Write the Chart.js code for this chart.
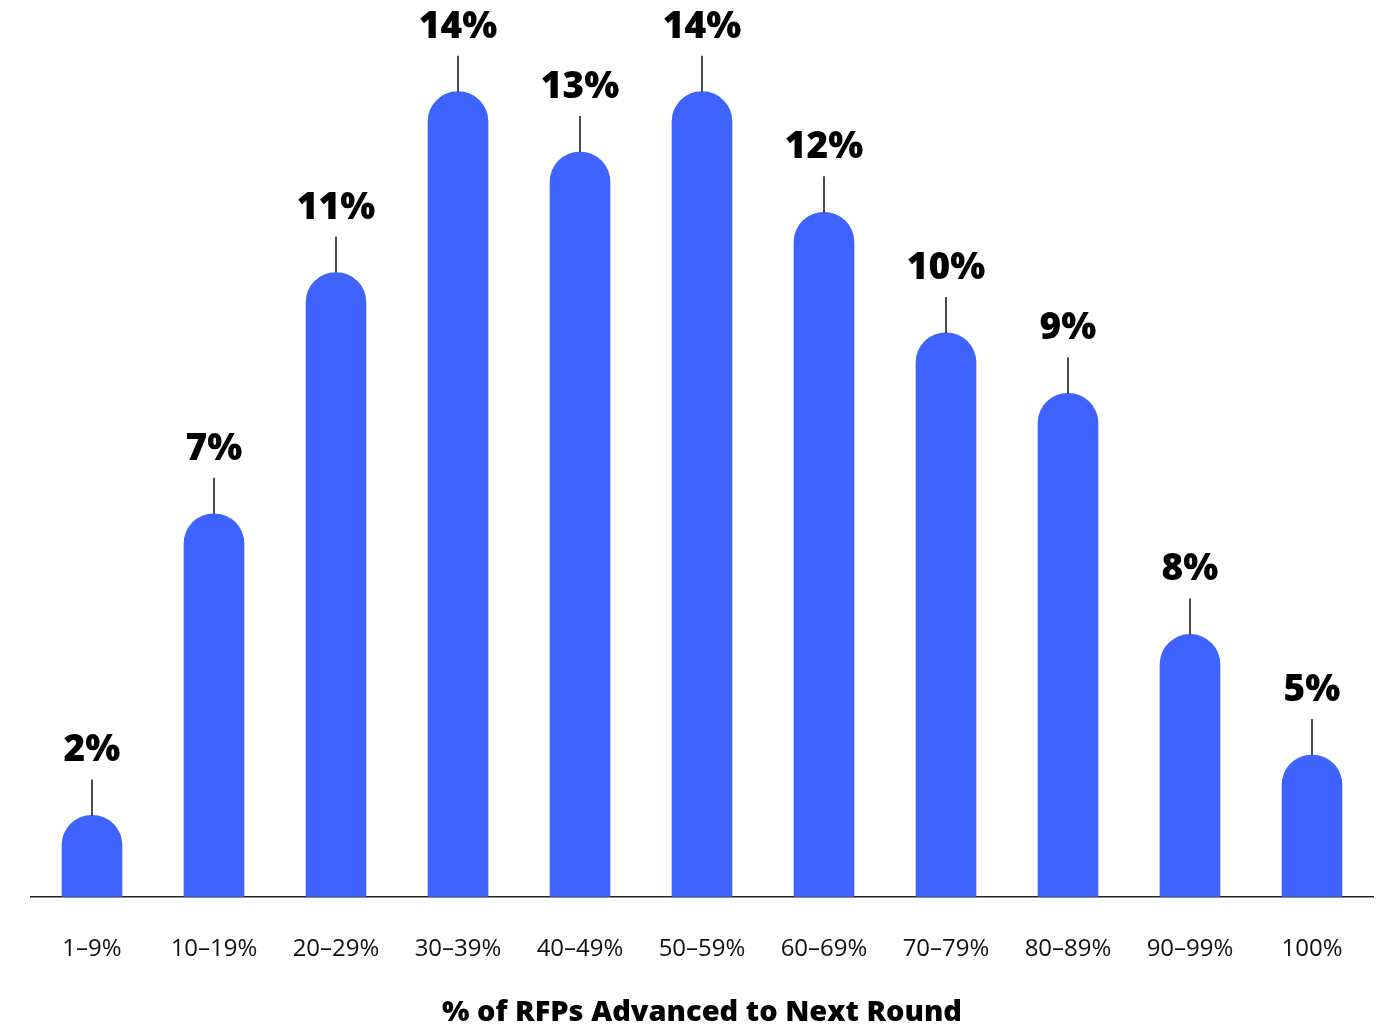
<!DOCTYPE html>
<html>
<head>
<meta charset="utf-8">
<script src="https://cdn.jsdelivr.net/npm/chart.js@4"></script>
<style>
  html, body { margin: 0; padding: 0; background: #fff; }
  #wrap { width: 1385px; height: 1030px; }
</style>
</head>
<body>
<div id="wrap"><canvas id="rfpChart"></canvas></div>
<script>
// categories along the x axis
const categories = ['1–9%', '10–19%', '20–29%', '30–39%', '40–49%', '50–59%',
  '60–69%', '70–79%', '80–89%', '90–99%', '100%'];
// bar heights as drawn in the picture
const barValues = [2, 7, 11, 14, 13, 14, 12, 10, 9, 5, 3];
// text printed above each bar
const barLabels = ['2%', '7%', '11%', '14%', '13%', '14%', '12%', '10%', '9%', '8%', '5%'];
const axisTitle = '% of RFPs Advanced to Next Round';

/* labels with a short leader line above each bar */
const leaderLabels = {
  id: 'leaderLabels',
  afterDatasetsDraw(chart) {
    const ctx = chart.ctx;
    const meta = chart.getDatasetMeta(0);
    ctx.save();
    meta.data.forEach((bar, i) => {
      const top = bar.y;
      const lineTop = top - 36;
      ctx.strokeStyle = '#111';
      ctx.lineWidth = 1.5;
      ctx.beginPath();
      ctx.moveTo(bar.x, top);
      ctx.lineTo(bar.x, lineTop);
      ctx.stroke();
      ctx.fillStyle = '#000';
      ctx.font = '800 37px "Open Sans"';
      ctx.textAlign = 'center';
      ctx.textBaseline = 'alphabetic';
      ctx.fillText(barLabels[i], bar.x, lineTop - 18);
    });
    ctx.restore();
  }
};

new Chart(document.getElementById('rfpChart'), {
  type: 'bar',
  data: {
    labels: categories,
    datasets: [{
      data: barValues,
      backgroundColor: '#3e63ff',
      barThickness: 60,
      borderRadius: 30,
      borderSkipped: 'bottom'
    }]
  },
  options: {
    responsive: true,
    maintainAspectRatio: false,
    animation: false,
    layout: { padding: { left: 31, right: 12, top: 0, bottom: 0 } },
    plugins: {
      legend: { display: false },
      tooltip: { enabled: false }
    },
    scales: {
      x: {
        grid: { display: false, drawTicks: false },
        border: { display: true, color: '#222', width: 1.5 },
        ticks: {
          color: '#111',
          padding: 37.6,
          font: { family: '"Open Sans"', size: 24, weight: 400, lineHeight: 1.2 }
        },
        title: {
          display: true,
          text: axisTitle,
          color: '#000',
          // tick padding is counted twice by chart.js, so pull the title back up
          padding: { top: -5.6, bottom: 0 },
          font: { family: '"Open Sans"', size: 29, weight: 800, lineHeight: 1.2 }
        }
      },
      y: {
        display: false,
        min: 0.65,
        max: 15.52
      }
    }
  },
  plugins: [leaderLabels]
});
</script>
</body>
</html>
